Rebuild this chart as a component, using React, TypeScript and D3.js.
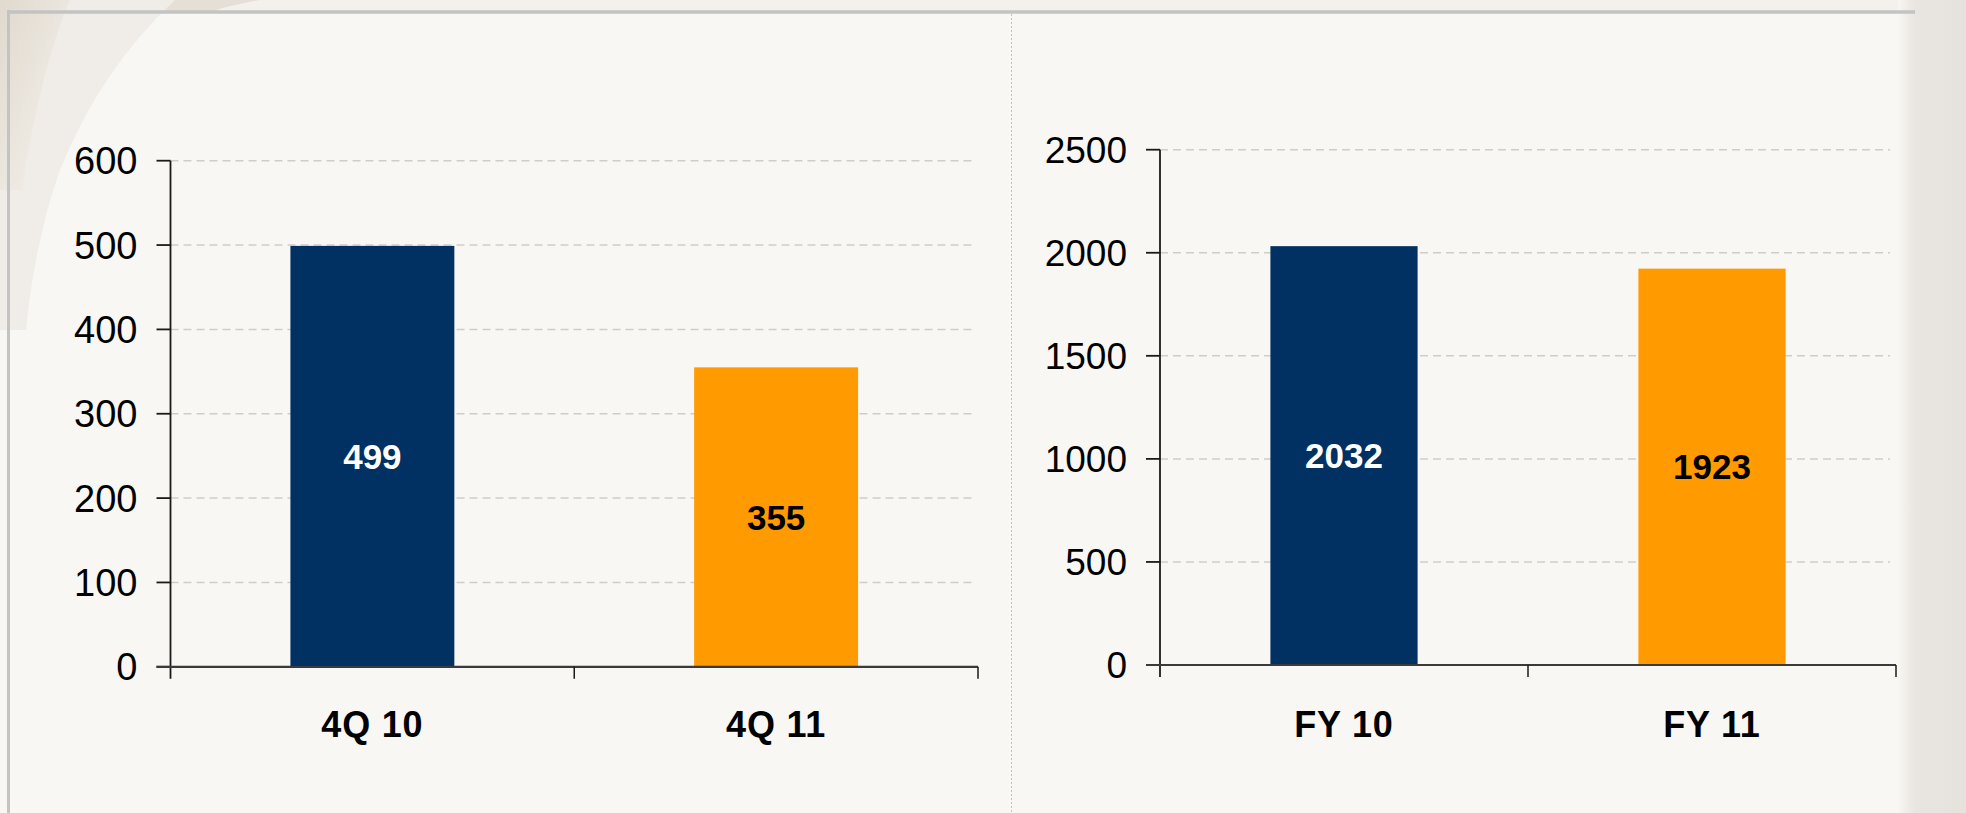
import React from "react";
import * as d3 from "d3";

const leftCategories = ["4Q 10", "4Q 11"];
const leftValues = [499, 355];
const leftTicks = [0, 100, 200, 300, 400, 500, 600];

const rightCategories = ["FY 10", "FY 11"];
const rightValues = [2032, 1923];
const rightTicks = [0, 500, 1000, 1500, 2000, 2500];

const barColors = ["#003162", "#FF9A00"];
const labelColors = ["#FFFFFF", "#000000"];

const FONT = "'Liberation Sans', Arial, Helvetica, sans-serif";

type PanelProps = {
  categories: string[];
  values: number[];
  ticks: number[];
  x0: number;
  x1: number;
  yTop: number;
  yBottom: number;
  padding: number;
  tickFont: number;
};

function Panel({ categories, values, ticks, x0, x1, yTop, yBottom, padding, tickFont }: PanelProps) {
  const max = ticks[ticks.length - 1];
  const y = d3.scaleLinear().domain([0, max]).range([yBottom, yTop]);
  const x = d3
    .scaleBand<string>()
    .domain(categories)
    .range([x0, x1])
    .paddingInner(padding)
    .paddingOuter(padding / 2);
  const step = x.step();
  const boundaries = categories.map((_, i) => x0 + step * (i + 1));
  return (
    <g>
      {ticks
        .filter((t) => t > 0)
        .map((t) => (
          <line
            key={"g" + t}
            x1={x0}
            x2={x1 - 6}
            y1={y(t)}
            y2={y(t)}
            stroke="#cfcdca"
            strokeWidth={1.5}
            strokeDasharray="8,5"
          />
        ))}
      {categories.map((c, i) => (
        <rect
          key={"b" + c}
          x={x(c)}
          y={y(values[i])}
          width={x.bandwidth()}
          height={y(0) - y(values[i])}
          fill={barColors[i]}
        />
      ))}
      {categories.map((c, i) => (
        <text
          key={"v" + c}
          x={(x(c) as number) + x.bandwidth() / 2}
          y={(y(values[i]) + y(0)) / 2}
          dy="0.36em"
          textAnchor="middle"
          fontFamily={FONT}
          fontWeight="bold"
          fontSize={35}
          fill={labelColors[i]}
        >
          {values[i]}
        </text>
      ))}
      {/* y axis */}
      <line x1={x0} x2={x0} y1={yTop} y2={yBottom + 12} stroke="#1a1a1a" strokeWidth={1.8} />
      {ticks.map((t) => (
        <g key={"t" + t}>
          <line x1={x0 - 14} x2={x0} y1={y(t)} y2={y(t)} stroke="#1a1a1a" strokeWidth={1.8} />
          <text
            x={x0 - 33}
            y={y(t)}
            dy="0.36em"
            textAnchor="end"
            fontFamily={FONT}
            fontSize={tickFont}
            fill="#000"
          >
            {t}
          </text>
        </g>
      ))}
      {/* x axis */}
      <line x1={x0 - 14} x2={x1} y1={yBottom} y2={yBottom} stroke="#3a3a3a" strokeWidth={2.2} />
      {boundaries.map((b, i) => (
        <line key={"xt" + i} x1={b} x2={b} y1={yBottom} y2={yBottom + 12} stroke="#1a1a1a" strokeWidth={1.5} />
      ))}
      {categories.map((c) => (
        <text
          key={"c" + c}
          x={(x(c) as number) + x.bandwidth() / 2}
          y={737}
          textAnchor="middle"
          fontFamily={FONT}
          fontWeight="bold"
          fontSize={36}
          fill="#000"
          letterSpacing={0.8}
        >
          {c}
        </text>
      ))}
    </g>
  );
}

export default function App() {
  return (
    <svg
      width={1966}
      height={813}
      style={{ position: "absolute", left: 0, top: 0, display: "block" }}
    >
      <defs>
        <linearGradient id="rightBand" x1="0" x2="1" y1="0" y2="0">
          <stop offset="0" stopColor="#f8f6f2" />
          <stop offset="0.25" stopColor="#e9e5e0" />
          <stop offset="1" stopColor="#e6e2dd" />
        </linearGradient>
        <linearGradient id="swoosh" x1="0" x2="1" y1="0" y2="1">
          <stop offset="0" stopColor="#e0d9ce" />
          <stop offset="1" stopColor="#f6f3ee" />
        </linearGradient>
      </defs>
      <rect x={0} y={0} width={1966} height={813} fill="#f9f7f3" />
      {/* top strip */}
      <rect x={0} y={0} width={1966} height={12} fill="#f4f1ec" />
      <path d="M0 0 L260 0 Q230 5 210 12 L0 12 Z" fill="#e5dfd6" />
      {/* decorative swoosh in top-left */}
      <path d="M0 0 L175 0 Q100 70 60 170 Q35 240 26 330 L0 330 Z" fill="#f0ede8" />
      <path d="M0 0 L70 0 Q40 70 22 190 L0 190 Z" fill="url(#swoosh)" />
      {/* right band */}
      <rect x={1898} y={0} width={68} height={813} fill="url(#rightBand)" />
      {/* frame */}
      <line x1={7} x2={1915} y1={12} y2={12} stroke="#c3c3c3" strokeWidth={3.5} />
      <line x1={8.5} x2={8.5} y1={10} y2={813} stroke="#c3c3c3" strokeWidth={3} />
      {/* dotted divider */}
      <line x1={1011.5} x2={1011.5} y1={14} y2={813} stroke="#c4c2be" strokeWidth={1} strokeDasharray="2,2" />
      <Panel
        categories={leftCategories}
        values={leftValues}
        ticks={leftTicks}
        x0={170.5}
        x1={978}
        yTop={160.7}
        yBottom={666.8}
        padding={0.594}
        tickFont={38}
      />
      <Panel
        categories={rightCategories}
        values={rightValues}
        ticks={rightTicks}
        x0={1160}
        x1={1896}
        yTop={149.7}
        yBottom={665}
        padding={0.6}
        tickFont={37}
      />
    </svg>
  );
}
